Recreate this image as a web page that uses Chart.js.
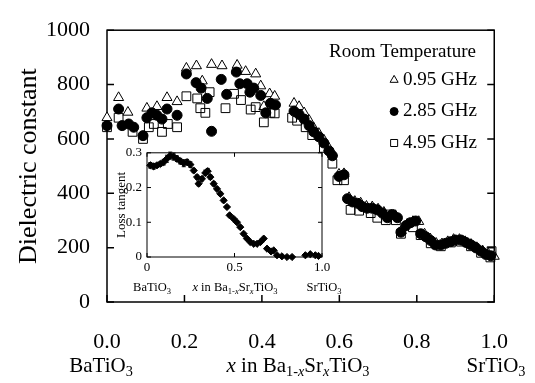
<!DOCTYPE html>
<html>
<head>
<meta charset="utf-8">
<script src="https://cdn.jsdelivr.net/npm/chart.js@4.4.0/dist/chart.umd.min.js"></script>
<style>
  body { margin: 0; background: #fff; }
  #wrap { position: relative; width: 535px; height: 383px; font-family: "Liberation Serif", "Times New Roman", serif; color: #000; }
  #main { position: absolute; left: 0; top: 0; }
  #inset { position: absolute; left: 100px; top: 140px; }
  .lbl { position: absolute; white-space: nowrap; transform: translate(-50%, -50%); line-height: 1; }
  .big { font-size: 21px; }
  .small { font-size: 12.5px; }
  sub { font-size: 0.68em; vertical-align: -0.35em; line-height: 0; }
</style>
</head>
<body>
<div id="wrap">
  <canvas id="main" width="535" height="383"></canvas>
  <canvas id="inset" width="250" height="165"></canvas>

  <div class="lbl big" style="left:101px; top:365px;">BaTiO<sub>3</sub></div>
  <div class="lbl big" style="left:298px; top:365px;"><i>x</i> in Ba<sub>1-<i>x</i></sub>Sr<sub><i>x</i></sub>TiO<sub>3</sub></div>
  <div class="lbl big" style="left:496px; top:365px;">SrTiO<sub>3</sub></div>

  <div class="lbl small" style="left:152px; top:287px;">BaTiO<sub>3</sub></div>
  <div class="lbl small" style="left:235px; top:287px;"><i>x</i> in Ba<sub>1-<i>x</i></sub>Sr<sub><i>x</i></sub>TiO<sub>3</sub></div>
  <div class="lbl small" style="left:324px; top:287px;">SrTiO<sub>3</sub></div>
</div>

<script>
const serif = '"Liberation Serif", "Times New Roman", serif';

// legend text
const legendTitle = 'Room Temperature';
const freqLabels = ['0.95 GHz', '2.85 GHz', '4.95 GHz'];

// axis ticks
const xTicksMain = [0, 0.2, 0.4, 0.6, 0.8, 1.0];
const yTicksMain = [0, 200, 400, 600, 800, 1000];
const xTicksInset = [0, 0.5, 1.0];
const yTicksInset = [0, 0.1, 0.2, 0.3];

// 0.95 GHz (open triangles)
const xTri = [0.00, 0.03, 0.054, 0.103, 0.129, 0.155, 0.181, 0.205, 0.231, 0.246, 0.27, 0.297,
  0.336, 0.358, 0.384, 0.397, 0.405, 0.42, 0.433,
  0.483, 0.496, 0.509, 0.522, 0.534, 0.547, 0.56, 0.573, 0.582, 0.599, 0.612, 0.625, 0.64,
  0.655, 0.67, 0.685, 0.70, 0.715, 0.73, 0.745, 0.76, 0.775, 0.79, 0.805, 0.82, 0.835, 0.85,
  0.865, 0.88, 0.895, 0.91, 0.925, 0.94, 0.955, 0.97, 0.985, 1.0];
const epsTri = [678, 752, 698, 713, 719, 752, 737, 860, 869, 813, 874, 869,
  871, 848, 839, 795, 719, 766, 757,
  731, 719, 696, 668, 640, 620, 596, 566, 548, 470, 472, 384, 370,
  364, 352, 350, 342, 330, 318, 318, 262, 286, 296, 296, 250, 232, 216,
  214, 222, 230, 230, 222, 212, 200, 188, 176, 168];

// 2.85 GHz (filled circles)
const xCircle = [0.0, 0.03, 0.039, 0.056, 0.069, 0.093, 0.103, 0.116, 0.129, 0.142, 0.155, 0.181,
  0.205, 0.23, 0.243, 0.259, 0.27, 0.295, 0.309, 0.334, 0.343, 0.362, 0.369, 0.379, 0.397,
  0.41, 0.422, 0.435,
  0.483, 0.496, 0.509, 0.522, 0.534, 0.547, 0.56, 0.573, 0.582, 0.599, 0.612, 0.621, 0.634,
  0.647, 0.659, 0.672, 0.685, 0.698, 0.711, 0.724, 0.737, 0.75, 0.759, 0.772, 0.784, 0.797,
  0.81, 0.823, 0.836, 0.848, 0.862, 0.875, 0.888, 0.9, 0.914, 0.927, 0.94, 0.953, 0.966,
  0.978, 0.991];
const epsCircle = [649, 710, 649, 655, 643, 612, 678, 696, 687, 673, 710, 687,
  839, 807, 787, 749, 628, 819, 764, 846, 803, 803, 772, 787, 760,
  696, 731, 725,
  702, 690, 673, 649, 626, 608, 585, 556, 538, 462, 468, 380, 368,
  363, 351, 345, 345, 339, 327, 310, 322, 310, 257, 281, 292, 298,
  251, 240, 226, 210, 210, 216, 222, 228, 228, 219, 210, 199, 187,
  175, 170];

// 4.95 GHz (open squares)
const xSquare = [0.0, 0.03, 0.066, 0.093, 0.108, 0.121, 0.142, 0.157, 0.181, 0.205, 0.233, 0.241,
  0.254, 0.265, 0.306, 0.328, 0.346, 0.371, 0.384, 0.405, 0.422, 0.433,
  0.478, 0.491, 0.513, 0.53, 0.56, 0.582, 0.595, 0.612, 0.629, 0.651, 0.681, 0.698, 0.72,
  0.724, 0.746, 0.759, 0.79, 0.81, 0.836, 0.862, 0.888, 0.914, 0.94, 0.966, 0.99, 0.993];
const epsSquare = [643, 678, 626, 600, 643, 655, 626, 655, 643, 757, 749, 713,
  696, 772, 713, 766, 743, 708, 717, 661, 696, 694,
  678, 667, 643, 614, 567, 509, 448, 448, 339, 336, 327, 310, 301,
  322, 301, 251, 275, 246, 216, 205, 219, 222, 205, 181, 164, 187];

// inset: loss tangent and its error bars
const xLoss = [0.019, 0.038, 0.057, 0.076, 0.095, 0.114, 0.133, 0.152, 0.171, 0.19, 0.21, 0.229,
  0.248, 0.267, 0.286, 0.295, 0.314, 0.333, 0.347, 0.362, 0.381, 0.4, 0.419, 0.438, 0.457,
  0.472, 0.495, 0.514, 0.533, 0.552, 0.571, 0.59, 0.61, 0.629, 0.648, 0.667, 0.686, 0.709,
  0.724, 0.743, 0.771, 0.8, 0.829, 0.905, 0.933, 0.962, 0.98];
const lossTan = [0.264, 0.261, 0.264, 0.268, 0.273, 0.283, 0.292, 0.289, 0.283, 0.276, 0.27, 0.273,
  0.266, 0.249, 0.23, 0.211, 0.225, 0.242, 0.247, 0.23, 0.211, 0.196, 0.182, 0.163, 0.144,
  0.12, 0.11, 0.1, 0.086, 0.067, 0.053, 0.043, 0.038, 0.038, 0.043, 0.053, 0.024, 0.016,
  0.019, 0.005, 0.002, 0.0, 0.0, 0.005, 0.008, 0.005, 0.003];
const lossErr = [0.008, 0.008, 0.006, 0.006, 0.008, 0.01, 0.01, 0.01, 0.008, 0.008, 0.01, 0.008,
  0.008, 0.006, 0.006, 0.006, 0.006, 0.008, 0.008, 0.006, 0.006, 0.005, 0.005, 0.005, 0.004,
  0.004, 0.004, 0.004, 0.004, 0.004, 0.004, 0.004, 0.004, 0.004, 0.004, 0.004, 0.003, 0.003,
  0.003, 0.003, 0.003, 0.003, 0.003, 0.003, 0.003, 0.003, 0.003];

function pts(xs, ys) {
  return xs.map((x, i) => ({ x: x, y: ys[i] }));
}

// box round the plot with inward ticks
const framePlugin = {
  id: 'frame',
  beforeDatasetsDraw(chart, args, opts) {
    const { ctx, chartArea: a, scales } = chart;
    const len = opts.tickLength;
    ctx.save();
    ctx.strokeStyle = '#000';
    ctx.lineWidth = opts.lineWidth;
    ctx.strokeRect(a.left, a.top, a.right - a.left, a.bottom - a.top);
    ctx.beginPath();
    scales.x.ticks.forEach((t, i) => {
      const px = scales.x.getPixelForTick(i);
      ctx.moveTo(px, a.bottom); ctx.lineTo(px, a.bottom - len);
      if (opts.topTicks) { ctx.moveTo(px, a.top); ctx.lineTo(px, a.top + len); }
    });
    scales.y.ticks.forEach((t, i) => {
      const py = scales.y.getPixelForTick(i);
      ctx.moveTo(a.left, py); ctx.lineTo(a.left + len, py);
      ctx.moveTo(a.right, py); ctx.lineTo(a.right - len, py);
    });
    ctx.stroke();
    ctx.restore();
  }
};

// vertical error bars for the inset points
const errorBars = {
  id: 'errorBars',
  beforeDatasetsDraw(chart, args, opts) {
    if (!opts.errors) return;
    const { ctx, scales } = chart;
    const ds = chart.data.datasets[0];
    ctx.save();
    ctx.strokeStyle = '#000';
    ctx.lineWidth = 1;
    ctx.beginPath();
    ds.data.forEach((p, i) => {
      const e = opts.errors[i];
      const px = scales.x.getPixelForValue(p.x);
      const y1 = scales.y.getPixelForValue(p.y + e);
      const y2 = scales.y.getPixelForValue(p.y - e);
      ctx.moveTo(px, y1); ctx.lineTo(px, y2);
      ctx.moveTo(px - 2, y1); ctx.lineTo(px + 2, y1);
      ctx.moveTo(px - 2, y2); ctx.lineTo(px + 2, y2);
    });
    ctx.stroke();
    ctx.restore();
  }
};

// legend inside the plot, text right aligned with marker in front
const roomLegend = {
  id: 'roomLegend',
  afterDatasetsDraw(chart, args, opts) {
    const ctx = chart.ctx;
    ctx.save();
    ctx.fillStyle = '#000';
    ctx.font = opts.fontSize + 'px ' + serif;
    ctx.textBaseline = 'middle';
    ctx.textAlign = 'left';
    ctx.fillText(opts.title, opts.titleX, opts.titleY);
    ctx.textAlign = 'right';
    opts.order.forEach((di, k) => {
      const ds = chart.data.datasets[di];
      const y = opts.firstY + k * opts.rowGap;
      ctx.fillStyle = '#000';
      ctx.fillText(ds.label, opts.textRight, y);
      const w = ctx.measureText(ds.label).width;
      ctx.fillStyle = ds.pointStyle === 'circle' ? '#000' : '#fff';
      ctx.strokeStyle = '#000';
      ctx.lineWidth = 1;
      Chart.helpers.drawPoint(ctx, {
        pointStyle: ds.pointStyle, radius: ds.pointRadius * 0.8, borderWidth: 1, rotation: 0
      }, opts.textRight - w - opts.markerGap, y);
    });
    ctx.restore();
  }
};

new Chart(document.getElementById('main'), {
  type: 'scatter',
  data: {
    datasets: [
      { label: freqLabels[2], data: pts(xSquare, epsSquare), pointStyle: 'rect', pointRadius: 6.2,
        backgroundColor: 'rgba(255,255,255,0)', borderColor: '#000', borderWidth: 1, clip: false },
      { label: freqLabels[1], data: pts(xCircle, epsCircle), pointStyle: 'circle', pointRadius: 5,
        backgroundColor: '#000', borderColor: '#000', borderWidth: 1, clip: false },
      { label: freqLabels[0], data: pts(xTri, epsTri), pointStyle: 'triangle', pointRadius: 5.8,
        backgroundColor: '#fff', borderColor: '#000', borderWidth: 1, clip: false }
    ]
  },
  options: {
    responsive: false,
    animation: false,
    devicePixelRatio: 1,
    layout: { padding: { left: 0, right: 33, top: 17, bottom: 0 } },
    scales: {
      x: {
        type: 'linear', min: 0, max: 1,
        afterBuildTicks: s => { s.ticks = xTicksMain.map(v => ({ value: v })); },
        ticks: { callback: v => v.toFixed(1), font: { family: serif, size: 22 }, color: '#000', padding: 27, maxRotation: 0 },
        grid: { display: false, drawTicks: false },
        border: { display: false },
        afterFit: s => { s.height = 81; }
      },
      y: {
        min: 0, max: 1000,
        afterBuildTicks: s => { s.ticks = yTicksMain.map(v => ({ value: v })); },
        ticks: { callback: v => String(v), font: { family: serif, size: 22 }, color: '#000', padding: 17 },
        grid: { display: false, drawTicks: false },
        border: { display: false },
        title: { display: true, text: 'Dielectric constant', color: '#000',
          font: { family: serif, size: 26 }, padding: { top: 14, bottom: 0 } },
        afterFit: s => { s.width = 107; }
      }
    },
    plugins: {
      legend: { display: false },
      tooltip: { enabled: false },
      frame: { lineWidth: 1.5, tickLength: 7, topTicks: false },
      roomLegend: { title: legendTitle, titleX: 329, titleY: 52, fontSize: 19,
        order: [2, 1, 0], firstY: 80, rowGap: 31.5, textRight: 477, markerGap: 9 }
    }
  },
  plugins: [framePlugin, roomLegend]
});

new Chart(document.getElementById('inset'), {
  type: 'scatter',
  data: {
    datasets: [
      { label: 'Loss tangent', data: pts(xLoss, lossTan), pointStyle: 'rectRot', pointRadius: 3.6,
        backgroundColor: '#000', borderColor: '#000', borderWidth: 1, clip: false }
    ]
  },
  options: {
    responsive: false,
    animation: false,
    devicePixelRatio: 1,
    layout: { padding: { left: 0, right: 28, top: 11.5, bottom: 0 } },
    scales: {
      x: {
        type: 'linear', min: 0, max: 1,
        afterBuildTicks: s => { s.ticks = xTicksInset.map(v => ({ value: v })); },
        ticks: { callback: v => v === 0 ? '0' : v.toFixed(1), font: { family: serif, size: 13 }, color: '#000', padding: 3, maxRotation: 0 },
        grid: { display: false, drawTicks: false },
        border: { display: false },
        afterFit: s => { s.height = 48; }
      },
      y: {
        min: 0, max: 0.3,
        afterBuildTicks: s => { s.ticks = yTicksInset.map(v => ({ value: v })); },
        ticks: { callback: v => v === 0 ? '0' : v.toFixed(1), font: { family: serif, size: 13 }, color: '#000', padding: 5 },
        grid: { display: false, drawTicks: false },
        border: { display: false },
        title: { display: true, text: 'Loss tangent', color: '#000',
          font: { family: serif, size: 13 }, padding: { top: 14, bottom: 0 } },
        afterFit: s => { s.width = 47; }
      }
    },
    plugins: {
      legend: { display: false },
      tooltip: { enabled: false },
      frame: { lineWidth: 1, tickLength: 4, topTicks: true },
      errorBars: { errors: lossErr }
    }
  },
  plugins: [framePlugin, errorBars]
});
</script>
</body>
</html>
